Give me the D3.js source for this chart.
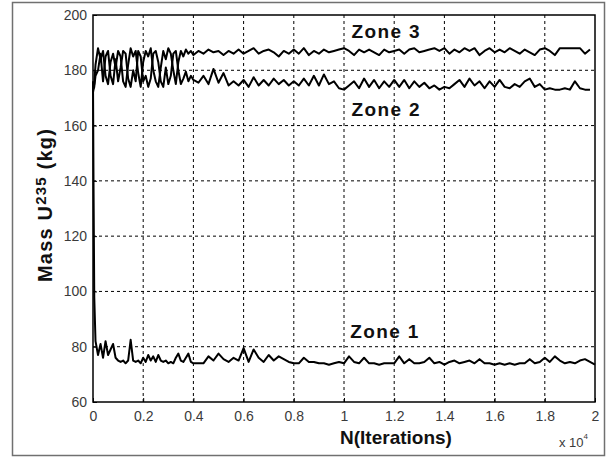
<!DOCTYPE html>
<html>
<head>
<meta charset="utf-8">
<script src="https://cdn.jsdelivr.net/npm/d3@7"></script>
<style>
  html, body { margin: 0; padding: 0; background: #ffffff; }
  svg { display: block; }
  .tick text { font-family: "Liberation Sans", Arial, sans-serif; font-size: 14px; fill: #3a3a3a; }
</style>
</head>
<body>
<svg id="chart" width="606" height="457"></svg>
<script>
// Iteration counts at which the zone masses were recorded
const iterations = [
  0, 20, 50, 100,
  200, 300, 400, 500, 600, 700, 800, 900, 1000, 1100, 1200, 1300, 1400, 1500, 1600, 1700,
  1800, 1900, 2000, 2100, 2200, 2300, 2400, 2500, 2600, 2700, 2800, 2900, 3000, 3100, 3200,
  3300, 3400, 3500, 3600, 3700, 3800, 3900, 4000,
  4200, 4400, 4600, 4800, 5000, 5200, 5400, 5600, 5800, 6000, 6200, 6400, 6600, 6800, 7000,
  7200, 7400, 7600, 7800, 8000, 8200, 8400, 8600, 8800, 9000, 9200, 9400, 9600, 9800, 10000,
  10200, 10400, 10600, 10800, 11000, 11200, 11400, 11600, 11800, 12000, 12200, 12400, 12600,
  12800, 13000, 13200, 13400, 13600, 13800, 14000, 14200, 14400, 14600, 14800, 15000, 15200,
  15400, 15600, 15800, 16000, 16200, 16400, 16600, 16800, 17000, 17200, 17400, 17600, 17800,
  18000, 18200, 18400, 18600, 18800, 19000, 19200, 19400, 19600, 19800, 20000
];

// Mass of U-235 (kg) in each zone
const zone1 = [
  176, 140, 98, 82,
  77, 81, 76, 82, 77, 79, 81, 76, 75, 74.5, 75, 74, 75, 82.5, 75, 74.5,
  75, 74, 76, 74.5, 77, 75, 76.5, 74.5, 77, 75, 74.5, 75, 74, 74.5, 74,
  76, 77.5, 75, 74.5, 76, 77.5, 74.5, 74,
  74, 74, 76.5, 75, 77.5, 75.5, 74.5, 76, 75, 79.5, 74.5, 79, 76, 74.5, 77,
  75, 76.5, 75.5, 74.5, 74, 74, 76, 74.5, 74.5, 74, 74, 73.5, 74, 74.5, 74,
  76.5, 74.5, 74, 76, 74, 74, 73.5, 74, 74, 74, 76.5, 74, 75.5,
  74, 74, 74.5, 76, 74, 74.5, 73.5, 74.5, 75, 74, 74.5, 75, 74,
  75.5, 74, 74, 73.5, 74, 73.5, 74, 73.5, 74, 74, 75.5, 74, 74.5,
  76, 74.5, 76.5, 75, 74, 74.5, 74, 75, 75.5, 74.5, 73.5
];

const zone2 = [
  172, 173, 174, 178,
  180, 186, 176, 185, 187, 178, 175, 184, 176, 181, 187, 186, 177, 174, 180, 176,
  187, 185, 176, 178, 174, 177, 186, 187, 183, 176, 174, 181, 175, 178, 186,
  187, 180, 175, 177, 179.5, 176, 178, 176.5,
  175.5, 178, 175, 180.5, 175.5, 179, 174.5, 176, 174.5, 176.5, 174, 177.5, 174.5, 176.5, 174.5,
  177, 175, 176.5, 174.5, 176, 174.5, 177, 174.5, 178, 174.5, 178.5, 175, 176, 173.5,
  173, 174.5, 176, 173.5, 177, 174, 176.5, 173.5, 176, 174, 176.5, 174, 176.5,
  173.5, 176, 174, 175.5, 173.5, 174.5, 173, 174, 173.5, 175, 176.5, 174, 177,
  174.5, 176, 173.5, 176, 174, 176.5, 174, 173.5, 175, 174, 176, 177, 174,
  175, 173, 173.5, 173, 173, 173.5, 173, 176, 173.5, 173, 173
];

const zone3 = [
  174, 174, 175, 182,
  188, 184, 187, 178, 175, 183, 186, 181, 187, 185, 176, 174, 182, 188, 185, 187,
  179, 174, 183, 187, 185, 188, 180, 176, 174, 181, 187, 184, 188, 186, 180,
  175, 183, 187, 185, 187.5, 186, 187, 185.5,
  187, 186, 187.5, 186.5, 187, 185.5, 187, 186, 187.5, 186, 187, 188, 186, 187,
  187.5, 186.5, 185, 187, 186, 187.5, 186, 188, 185.5, 187, 186, 187.5, 186.5, 187, 187.5,
  188, 187, 185.5, 187.5, 186.5, 187.5, 186.5, 185.5, 187.5, 186.5, 187, 187.5, 186,
  187.5, 188, 186.5, 187, 187.5, 188, 187, 188, 186, 187.5, 186.5, 188, 187,
  188, 185.5, 187, 188, 186.5, 187.5, 186.5, 188, 187, 186, 187.5, 186.5, 185.5,
  187.5, 188, 187, 185.5, 188, 188, 188, 188, 188, 186, 187.5
];

// Axis ticks and their labels
const xTickValues = [0, 2000, 4000, 6000, 8000, 10000, 12000, 14000, 16000, 18000, 20000];
const xTickLabels = ["0", "0.2", "0.4", "0.6", "0.8", "1", "1.2", "1.4", "1.6", "1.8", "2"];
const yTickValues = [60, 80, 100, 120, 140, 160, 180, 200];
const yTickLabels = ["60", "80", "100", "120", "140", "160", "180", "200"];

// Zone annotations: text, anchor iteration, anchor mass
const zoneNames = ["Zone 3", "Zone 2", "Zone 1"];
const zoneLabelX = [10300, 10300, 10250];
const zoneLabelY = [191.6, 163.3, 83.2];

const svg = d3.select("#chart");
const plot = { left: 93, right: 595, top: 15, bottom: 402 };
const FONT = "Liberation Sans, Arial, sans-serif";

// figure frame
svg.append("rect")
  .attr("x", 12.5).attr("y", 2.5)
  .attr("width", 592).attr("height", 453)
  .attr("fill", "#ffffff")
  .attr("stroke", "#707070").attr("stroke-width", 1.5);

const x = d3.scaleLinear().domain([0, 20000]).range([plot.left, plot.right]);
const y = d3.scaleLinear().domain([60, 200]).range([plot.bottom, plot.top]);

// dashed grid
const g = svg.append("g");
g.selectAll("line.vgrid")
  .data(xTickValues.slice(1, -1))
  .join("line")
  .attr("x1", d => x(d)).attr("x2", d => x(d))
  .attr("y1", plot.top).attr("y2", plot.bottom)
  .attr("stroke", "#000").attr("stroke-width", 1)
  .attr("stroke-dasharray", "3,3");
g.selectAll("line.hgrid")
  .data(yTickValues.slice(1, -1))
  .join("line")
  .attr("x1", plot.left).attr("x2", plot.right)
  .attr("y1", d => y(d)).attr("y2", d => y(d))
  .attr("stroke", "#000").attr("stroke-width", 1)
  .attr("stroke-dasharray", "3,3");

// axes with inward ticks
const xAxis = d3.axisBottom(x).tickValues(xTickValues)
  .tickFormat((d, i) => xTickLabels[i]).tickSizeInner(-4).tickSizeOuter(0).tickPadding(9);
const yAxis = d3.axisLeft(y).tickValues(yTickValues)
  .tickFormat((d, i) => yTickLabels[i]).tickSizeInner(-4).tickSizeOuter(0).tickPadding(6);

const gx = svg.append("g").attr("transform", `translate(0,${plot.bottom})`).call(xAxis);
const gy = svg.append("g").attr("transform", `translate(${plot.left},0)`).call(yAxis);
[gx, gy].forEach(a => {
  a.select(".domain").remove();
  a.selectAll(".tick line").attr("stroke", "#000");
});
gx.selectAll(".tick text").attr("dy", "0.71em");

// series lines
const line = d3.line()
  .x((d, i) => x(iterations[i]))
  .y(d => y(d));

[zone1, zone2, zone3].forEach(series => {
  svg.append("path")
    .datum(series)
    .attr("d", line)
    .attr("fill", "none")
    .attr("stroke", "#000")
    .attr("stroke-width", 2)
    .attr("stroke-linejoin", "round");
});

// plot box
svg.append("rect")
  .attr("x", plot.left).attr("y", plot.top)
  .attr("width", plot.right - plot.left).attr("height", plot.bottom - plot.top)
  .attr("fill", "none").attr("stroke", "#000").attr("stroke-width", 1.5);

// zone annotations
svg.selectAll("text.zone")
  .data(zoneNames)
  .join("text")
  .attr("class", "zone")
  .attr("x", (d, i) => x(zoneLabelX[i]))
  .attr("y", (d, i) => y(zoneLabelY[i]))
  .attr("font-family", FONT)
  .attr("font-weight", "bold")
  .attr("font-size", 19)
  .attr("fill", "#111")
  .attr("textLength", 68)
  .attr("lengthAdjust", "spacing")
  .text(d => d);

// x axis title
svg.append("text")
  .attr("x", 396).attr("y", 444)
  .attr("text-anchor", "middle")
  .attr("font-family", FONT)
  .attr("font-weight", "bold")
  .attr("font-size", 19)
  .attr("fill", "#111")
  .text("N(Iterations)");

// exponent note
const ex = svg.append("text")
  .attr("x", 559).attr("y", 447)
  .attr("font-family", FONT)
  .attr("font-size", 13)
  .attr("fill", "#3a3a3a");
ex.append("tspan").text("x 10");
ex.append("tspan").attr("dy", -8).attr("font-size", 8).text("4");

// y axis title
const yt = svg.append("text")
  .attr("transform", "translate(52,205) rotate(-90)")
  .attr("text-anchor", "middle")
  .attr("font-family", FONT)
  .attr("font-weight", "bold")
  .attr("font-size", 20)
  .attr("letter-spacing", 1.2)
  .attr("fill", "#111");
yt.append("tspan").text("Mass U");
yt.append("tspan").attr("dy", -6).attr("font-size", 15).text("235");
yt.append("tspan").attr("dy", 6).text("  (kg)");
</script>
</body>
</html>
